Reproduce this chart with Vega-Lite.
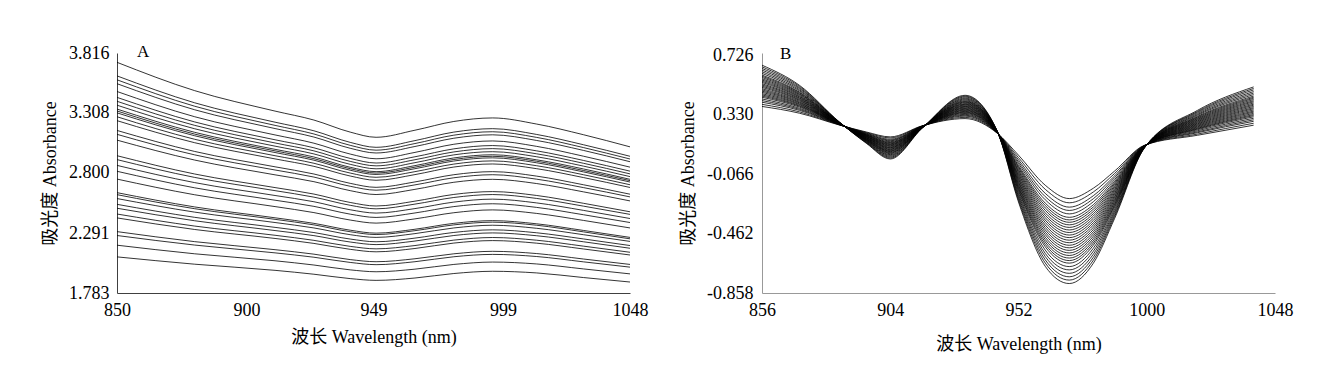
{
"$schema": "https://vega.github.io/schema/vega-lite/v6.json",
"padding": {"left": 41, "top": 43, "right": 5, "bottom": 5},
"bounds": "flush",
"spacing": 132,
"config": {
  "view": {"stroke": null},
  "font": "Liberation Serif, Noto Sans CJK SC",
  "axis": {"grid": false, "ticks": false, "labelFontSize": 18, "titleFontSize": 18, "titleFontWeight": "normal", "labelColor": "#000", "titleColor": "#000", "labelFlush": false, "labelOverlap": false, "labelPadding": 8, "titlePadding": 9}
},
"datasets": {
"a": [
{"c":1,"w":850,"v":3.737},{"c":1,"w":880,"v":3.497},{"c":1,"w":911,"v":3.324},{"c":1,"w":926,"v":3.248},{"c":1,"w":940,"v":3.146},{"c":1,"w":950,"v":3.102},{"c":1,"w":965,"v":3.162},{"c":1,"w":980,"v":3.236},{"c":1,"w":995,"v":3.266},{"c":1,"w":1012,"v":3.214},{"c":1,"w":1030,"v":3.124},{"c":1,"w":1048,"v":3.021},
{"c":2,"w":850,"v":3.622},{"c":2,"w":880,"v":3.394},{"c":2,"w":911,"v":3.230},{"c":2,"w":926,"v":3.157},{"c":2,"w":940,"v":3.059},{"c":2,"w":950,"v":3.017},{"c":2,"w":965,"v":3.074},{"c":2,"w":980,"v":3.146},{"c":2,"w":995,"v":3.175},{"c":2,"w":1012,"v":3.126},{"c":2,"w":1030,"v":3.039},{"c":2,"w":1048,"v":2.941},
{"c":3,"w":850,"v":3.589},{"c":3,"w":880,"v":3.365},{"c":3,"w":911,"v":3.203},{"c":3,"w":926,"v":3.130},{"c":3,"w":940,"v":3.034},{"c":3,"w":950,"v":2.993},{"c":3,"w":965,"v":3.049},{"c":3,"w":980,"v":3.120},{"c":3,"w":995,"v":3.149},{"c":3,"w":1012,"v":3.101},{"c":3,"w":1030,"v":3.015},{"c":3,"w":1048,"v":2.918},
{"c":4,"w":850,"v":3.556},{"c":4,"w":880,"v":3.335},{"c":4,"w":911,"v":3.176},{"c":4,"w":926,"v":3.104},{"c":4,"w":940,"v":3.009},{"c":4,"w":950,"v":2.969},{"c":4,"w":965,"v":3.024},{"c":4,"w":980,"v":3.094},{"c":4,"w":995,"v":3.123},{"c":4,"w":1012,"v":3.075},{"c":4,"w":1030,"v":2.991},{"c":4,"w":1048,"v":2.895},
{"c":5,"w":850,"v":3.490},{"c":5,"w":880,"v":3.276},{"c":5,"w":911,"v":3.122},{"c":5,"w":926,"v":3.052},{"c":5,"w":940,"v":2.960},{"c":5,"w":950,"v":2.920},{"c":5,"w":965,"v":2.974},{"c":5,"w":980,"v":3.043},{"c":5,"w":995,"v":3.071},{"c":5,"w":1012,"v":3.025},{"c":5,"w":1030,"v":2.942},{"c":5,"w":1048,"v":2.849},
{"c":6,"w":850,"v":3.440},{"c":6,"w":880,"v":3.232},{"c":6,"w":911,"v":3.081},{"c":6,"w":926,"v":3.013},{"c":6,"w":940,"v":2.923},{"c":6,"w":950,"v":2.884},{"c":6,"w":965,"v":2.937},{"c":6,"w":980,"v":3.004},{"c":6,"w":995,"v":3.032},{"c":6,"w":1012,"v":2.987},{"c":6,"w":1030,"v":2.906},{"c":6,"w":1048,"v":2.815},
{"c":7,"w":850,"v":3.407},{"c":7,"w":880,"v":3.203},{"c":7,"w":911,"v":3.054},{"c":7,"w":926,"v":2.987},{"c":7,"w":940,"v":2.898},{"c":7,"w":950,"v":2.860},{"c":7,"w":965,"v":2.912},{"c":7,"w":980,"v":2.978},{"c":7,"w":995,"v":3.006},{"c":7,"w":1012,"v":2.962},{"c":7,"w":1030,"v":2.882},{"c":7,"w":1048,"v":2.792},
{"c":8,"w":850,"v":3.374},{"c":8,"w":880,"v":3.174},{"c":8,"w":911,"v":3.027},{"c":8,"w":926,"v":2.961},{"c":8,"w":940,"v":2.873},{"c":8,"w":950,"v":2.835},{"c":8,"w":965,"v":2.887},{"c":8,"w":980,"v":2.953},{"c":8,"w":995,"v":2.980},{"c":8,"w":1012,"v":2.937},{"c":8,"w":1030,"v":2.858},{"c":8,"w":1048,"v":2.769},
{"c":9,"w":850,"v":3.341},{"c":9,"w":880,"v":3.144},{"c":9,"w":911,"v":3.000},{"c":9,"w":926,"v":2.935},{"c":9,"w":940,"v":2.848},{"c":9,"w":950,"v":2.811},{"c":9,"w":965,"v":2.862},{"c":9,"w":980,"v":2.927},{"c":9,"w":995,"v":2.954},{"c":9,"w":1012,"v":2.911},{"c":9,"w":1030,"v":2.834},{"c":9,"w":1048,"v":2.746},
{"c":10,"w":850,"v":3.325},{"c":10,"w":880,"v":3.129},{"c":10,"w":911,"v":2.987},{"c":10,"w":926,"v":2.921},{"c":10,"w":940,"v":2.836},{"c":10,"w":950,"v":2.799},{"c":10,"w":965,"v":2.849},{"c":10,"w":980,"v":2.914},{"c":10,"w":995,"v":2.941},{"c":10,"w":1012,"v":2.899},{"c":10,"w":1030,"v":2.821},{"c":10,"w":1048,"v":2.735},
{"c":11,"w":850,"v":3.309},{"c":11,"w":880,"v":3.115},{"c":11,"w":911,"v":2.973},{"c":11,"w":926,"v":2.908},{"c":11,"w":940,"v":2.823},{"c":11,"w":950,"v":2.787},{"c":11,"w":965,"v":2.836},{"c":11,"w":980,"v":2.901},{"c":11,"w":995,"v":2.928},{"c":11,"w":1012,"v":2.886},{"c":11,"w":1030,"v":2.809},{"c":11,"w":1048,"v":2.723},
{"c":12,"w":850,"v":3.276},{"c":12,"w":880,"v":3.085},{"c":12,"w":911,"v":2.946},{"c":12,"w":926,"v":2.882},{"c":12,"w":940,"v":2.799},{"c":12,"w":950,"v":2.763},{"c":12,"w":965,"v":2.811},{"c":12,"w":980,"v":2.875},{"c":12,"w":995,"v":2.902},{"c":12,"w":1012,"v":2.861},{"c":12,"w":1030,"v":2.785},{"c":12,"w":1048,"v":2.700},
{"c":13,"w":850,"v":3.243},{"c":13,"w":880,"v":3.056},{"c":13,"w":911,"v":2.919},{"c":13,"w":926,"v":2.856},{"c":13,"w":940,"v":2.774},{"c":13,"w":950,"v":2.738},{"c":13,"w":965,"v":2.786},{"c":13,"w":980,"v":2.850},{"c":13,"w":995,"v":2.876},{"c":13,"w":1012,"v":2.836},{"c":13,"w":1030,"v":2.761},{"c":13,"w":1048,"v":2.677},
{"c":14,"w":850,"v":3.160},{"c":14,"w":880,"v":2.982},{"c":14,"w":911,"v":2.852},{"c":14,"w":926,"v":2.791},{"c":14,"w":940,"v":2.712},{"c":14,"w":950,"v":2.678},{"c":14,"w":965,"v":2.724},{"c":14,"w":980,"v":2.785},{"c":14,"w":995,"v":2.811},{"c":14,"w":1012,"v":2.773},{"c":14,"w":1030,"v":2.700},{"c":14,"w":1048,"v":2.620},
{"c":15,"w":850,"v":3.127},{"c":15,"w":880,"v":2.953},{"c":15,"w":911,"v":2.825},{"c":15,"w":926,"v":2.765},{"c":15,"w":940,"v":2.687},{"c":15,"w":950,"v":2.654},{"c":15,"w":965,"v":2.699},{"c":15,"w":980,"v":2.759},{"c":15,"w":995,"v":2.785},{"c":15,"w":1012,"v":2.747},{"c":15,"w":1030,"v":2.676},{"c":15,"w":1048,"v":2.597},
{"c":16,"w":850,"v":3.078},{"c":16,"w":880,"v":2.909},{"c":16,"w":911,"v":2.784},{"c":16,"w":926,"v":2.726},{"c":16,"w":940,"v":2.650},{"c":16,"w":950,"v":2.617},{"c":16,"w":965,"v":2.661},{"c":16,"w":980,"v":2.721},{"c":16,"w":995,"v":2.746},{"c":16,"w":1012,"v":2.710},{"c":16,"w":1030,"v":2.640},{"c":16,"w":1048,"v":2.563},
{"c":17,"w":850,"v":2.946},{"c":17,"w":880,"v":2.791},{"c":17,"w":911,"v":2.676},{"c":17,"w":926,"v":2.621},{"c":17,"w":940,"v":2.550},{"c":17,"w":950,"v":2.520},{"c":17,"w":965,"v":2.561},{"c":17,"w":980,"v":2.618},{"c":17,"w":995,"v":2.642},{"c":17,"w":1012,"v":2.609},{"c":17,"w":1030,"v":2.543},{"c":17,"w":1048,"v":2.471},
{"c":18,"w":850,"v":2.913},{"c":18,"w":880,"v":2.762},{"c":18,"w":911,"v":2.650},{"c":18,"w":926,"v":2.595},{"c":18,"w":940,"v":2.526},{"c":18,"w":950,"v":2.496},{"c":18,"w":965,"v":2.536},{"c":18,"w":980,"v":2.592},{"c":18,"w":995,"v":2.617},{"c":18,"w":1012,"v":2.584},{"c":18,"w":1030,"v":2.519},{"c":18,"w":1048,"v":2.449},
{"c":19,"w":850,"v":2.864},{"c":19,"w":880,"v":2.718},{"c":19,"w":911,"v":2.609},{"c":19,"w":926,"v":2.556},{"c":19,"w":940,"v":2.488},{"c":19,"w":950,"v":2.460},{"c":19,"w":965,"v":2.498},{"c":19,"w":980,"v":2.553},{"c":19,"w":995,"v":2.578},{"c":19,"w":1012,"v":2.546},{"c":19,"w":1030,"v":2.483},{"c":19,"w":1048,"v":2.414},
{"c":20,"w":850,"v":2.814},{"c":20,"w":880,"v":2.674},{"c":20,"w":911,"v":2.569},{"c":20,"w":926,"v":2.517},{"c":20,"w":940,"v":2.451},{"c":20,"w":950,"v":2.423},{"c":20,"w":965,"v":2.461},{"c":20,"w":980,"v":2.515},{"c":20,"w":995,"v":2.539},{"c":20,"w":1012,"v":2.508},{"c":20,"w":1030,"v":2.446},{"c":20,"w":1048,"v":2.380},
{"c":21,"w":850,"v":2.748},{"c":21,"w":880,"v":2.615},{"c":21,"w":911,"v":2.515},{"c":21,"w":926,"v":2.464},{"c":21,"w":940,"v":2.401},{"c":21,"w":950,"v":2.375},{"c":21,"w":965,"v":2.411},{"c":21,"w":980,"v":2.463},{"c":21,"w":995,"v":2.487},{"c":21,"w":1012,"v":2.457},{"c":21,"w":1030,"v":2.398},{"c":21,"w":1048,"v":2.334},
{"c":22,"w":850,"v":2.633},{"c":22,"w":880,"v":2.512},{"c":22,"w":911,"v":2.420},{"c":22,"w":926,"v":2.373},{"c":22,"w":940,"v":2.315},{"c":22,"w":950,"v":2.290},{"c":22,"w":965,"v":2.323},{"c":22,"w":980,"v":2.373},{"c":22,"w":995,"v":2.396},{"c":22,"w":1012,"v":2.369},{"c":22,"w":1030,"v":2.313},{"c":22,"w":1048,"v":2.254},
{"c":23,"w":850,"v":2.616},{"c":23,"w":880,"v":2.497},{"c":23,"w":911,"v":2.407},{"c":23,"w":926,"v":2.360},{"c":23,"w":940,"v":2.302},{"c":23,"w":950,"v":2.278},{"c":23,"w":965,"v":2.311},{"c":23,"w":980,"v":2.360},{"c":23,"w":995,"v":2.383},{"c":23,"w":1012,"v":2.357},{"c":23,"w":1030,"v":2.301},{"c":23,"w":1048,"v":2.242},
{"c":24,"w":850,"v":2.583},{"c":24,"w":880,"v":2.468},{"c":24,"w":911,"v":2.380},{"c":24,"w":926,"v":2.334},{"c":24,"w":940,"v":2.277},{"c":24,"w":950,"v":2.254},{"c":24,"w":965,"v":2.286},{"c":24,"w":980,"v":2.334},{"c":24,"w":995,"v":2.357},{"c":24,"w":1012,"v":2.331},{"c":24,"w":1030,"v":2.277},{"c":24,"w":1048,"v":2.220},
{"c":25,"w":850,"v":2.534},{"c":25,"w":880,"v":2.424},{"c":25,"w":911,"v":2.339},{"c":25,"w":926,"v":2.295},{"c":25,"w":940,"v":2.240},{"c":25,"w":950,"v":2.217},{"c":25,"w":965,"v":2.248},{"c":25,"w":980,"v":2.296},{"c":25,"w":995,"v":2.318},{"c":25,"w":1012,"v":2.293},{"c":25,"w":1030,"v":2.241},{"c":25,"w":1048,"v":2.185},
{"c":26,"w":850,"v":2.501},{"c":26,"w":880,"v":2.395},{"c":26,"w":911,"v":2.312},{"c":26,"w":926,"v":2.269},{"c":26,"w":940,"v":2.215},{"c":26,"w":950,"v":2.193},{"c":26,"w":965,"v":2.223},{"c":26,"w":980,"v":2.270},{"c":26,"w":995,"v":2.292},{"c":26,"w":1012,"v":2.268},{"c":26,"w":1030,"v":2.217},{"c":26,"w":1048,"v":2.162},
{"c":27,"w":850,"v":2.452},{"c":27,"w":880,"v":2.350},{"c":27,"w":911,"v":2.272},{"c":27,"w":926,"v":2.229},{"c":27,"w":940,"v":2.178},{"c":27,"w":950,"v":2.157},{"c":27,"w":965,"v":2.185},{"c":27,"w":980,"v":2.231},{"c":27,"w":995,"v":2.253},{"c":27,"w":1012,"v":2.230},{"c":27,"w":1030,"v":2.180},{"c":27,"w":1048,"v":2.128},
{"c":28,"w":850,"v":2.419},{"c":28,"w":880,"v":2.321},{"c":28,"w":911,"v":2.245},{"c":28,"w":926,"v":2.203},{"c":28,"w":940,"v":2.153},{"c":28,"w":950,"v":2.132},{"c":28,"w":965,"v":2.160},{"c":28,"w":980,"v":2.206},{"c":28,"w":995,"v":2.227},{"c":28,"w":1012,"v":2.205},{"c":28,"w":1030,"v":2.156},{"c":28,"w":1048,"v":2.105},
{"c":29,"w":850,"v":2.303},{"c":29,"w":880,"v":2.218},{"c":29,"w":911,"v":2.150},{"c":29,"w":926,"v":2.112},{"c":29,"w":940,"v":2.066},{"c":29,"w":950,"v":2.048},{"c":29,"w":965,"v":2.073},{"c":29,"w":980,"v":2.115},{"c":29,"w":995,"v":2.136},{"c":29,"w":1012,"v":2.117},{"c":29,"w":1030,"v":2.071},{"c":29,"w":1048,"v":2.025},
{"c":30,"w":850,"v":2.270},{"c":30,"w":880,"v":2.189},{"c":30,"w":911,"v":2.123},{"c":30,"w":926,"v":2.086},{"c":30,"w":940,"v":2.042},{"c":30,"w":950,"v":2.023},{"c":30,"w":965,"v":2.048},{"c":30,"w":980,"v":2.090},{"c":30,"w":995,"v":2.110},{"c":30,"w":1012,"v":2.092},{"c":30,"w":1030,"v":2.047},{"c":30,"w":1048,"v":2.002},
{"c":31,"w":850,"v":2.188},{"c":31,"w":880,"v":2.115},{"c":31,"w":911,"v":2.056},{"c":31,"w":926,"v":2.020},{"c":31,"w":940,"v":1.979},{"c":31,"w":950,"v":1.963},{"c":31,"w":965,"v":1.985},{"c":31,"w":980,"v":2.025},{"c":31,"w":995,"v":2.045},{"c":31,"w":1012,"v":2.029},{"c":31,"w":1030,"v":1.987},{"c":31,"w":1048,"v":1.945},
{"c":32,"w":850,"v":2.089},{"c":32,"w":880,"v":2.027},{"c":32,"w":911,"v":1.975},{"c":32,"w":926,"v":1.942},{"c":32,"w":940,"v":1.905},{"c":32,"w":950,"v":1.890},{"c":32,"w":965,"v":1.910},{"c":32,"w":980,"v":1.948},{"c":32,"w":995,"v":1.967},{"c":32,"w":1012,"v":1.953},{"c":32,"w":1030,"v":1.914},{"c":32,"w":1048,"v":1.876}
],
"b": [
{"c":1,"w":856,"v":0.385},{"c":1,"w":870,"v":0.340},{"c":1,"w":885,"v":0.261},{"c":1,"w":895,"v":0.215},{"c":1,"w":904,"v":0.182},{"c":1,"w":916,"v":0.256},{"c":1,"w":932,"v":0.304},{"c":1,"w":944,"v":0.207},{"c":1,"w":952,"v":0.060},{"c":1,"w":962,"v":-0.140},{"c":1,"w":971,"v":-0.229},{"c":1,"w":980,"v":-0.160},{"c":1,"w":988,"v":-0.045},{"c":1,"w":999,"v":0.125},{"c":1,"w":1019,"v":0.193},{"c":1,"w":1040,"v":0.260},
{"c":2,"w":856,"v":0.399},{"c":2,"w":870,"v":0.349},{"c":2,"w":885,"v":0.262},{"c":2,"w":895,"v":0.211},{"c":2,"w":904,"v":0.175},{"c":2,"w":916,"v":0.255},{"c":2,"w":932,"v":0.312},{"c":2,"w":944,"v":0.208},{"c":2,"w":952,"v":0.044},{"c":2,"w":962,"v":-0.167},{"c":2,"w":971,"v":-0.257},{"c":2,"w":980,"v":-0.185},{"c":2,"w":988,"v":-0.061},{"c":2,"w":999,"v":0.124},{"c":2,"w":1019,"v":0.201},{"c":2,"w":1040,"v":0.273},
{"c":3,"w":856,"v":0.413},{"c":3,"w":870,"v":0.359},{"c":3,"w":885,"v":0.263},{"c":3,"w":895,"v":0.207},{"c":3,"w":904,"v":0.167},{"c":3,"w":916,"v":0.254},{"c":3,"w":932,"v":0.320},{"c":3,"w":944,"v":0.209},{"c":3,"w":952,"v":0.029},{"c":3,"w":962,"v":-0.194},{"c":3,"w":971,"v":-0.286},{"c":3,"w":980,"v":-0.210},{"c":3,"w":988,"v":-0.077},{"c":3,"w":999,"v":0.123},{"c":3,"w":1019,"v":0.210},{"c":3,"w":1040,"v":0.286},
{"c":4,"w":856,"v":0.424},{"c":4,"w":870,"v":0.366},{"c":4,"w":885,"v":0.264},{"c":4,"w":895,"v":0.204},{"c":4,"w":904,"v":0.161},{"c":4,"w":916,"v":0.254},{"c":4,"w":932,"v":0.326},{"c":4,"w":944,"v":0.209},{"c":4,"w":952,"v":0.016},{"c":4,"w":962,"v":-0.216},{"c":4,"w":971,"v":-0.308},{"c":4,"w":980,"v":-0.230},{"c":4,"w":988,"v":-0.089},{"c":4,"w":999,"v":0.122},{"c":4,"w":1019,"v":0.216},{"c":4,"w":1040,"v":0.296},
{"c":5,"w":856,"v":0.435},{"c":5,"w":870,"v":0.373},{"c":5,"w":885,"v":0.265},{"c":5,"w":895,"v":0.201},{"c":5,"w":904,"v":0.156},{"c":5,"w":916,"v":0.253},{"c":5,"w":932,"v":0.332},{"c":5,"w":944,"v":0.210},{"c":5,"w":952,"v":0.004},{"c":5,"w":962,"v":-0.237},{"c":5,"w":971,"v":-0.331},{"c":5,"w":980,"v":-0.250},{"c":5,"w":988,"v":-0.102},{"c":5,"w":999,"v":0.121},{"c":5,"w":1019,"v":0.223},{"c":5,"w":1040,"v":0.306},
{"c":6,"w":856,"v":0.446},{"c":6,"w":870,"v":0.381},{"c":6,"w":885,"v":0.265},{"c":6,"w":895,"v":0.198},{"c":6,"w":904,"v":0.150},{"c":6,"w":916,"v":0.253},{"c":6,"w":932,"v":0.338},{"c":6,"w":944,"v":0.210},{"c":6,"w":952,"v":-0.009},{"c":6,"w":962,"v":-0.259},{"c":6,"w":971,"v":-0.354},{"c":6,"w":980,"v":-0.270},{"c":6,"w":988,"v":-0.114},{"c":6,"w":999,"v":0.121},{"c":6,"w":1019,"v":0.230},{"c":6,"w":1040,"v":0.316},
{"c":7,"w":856,"v":0.454},{"c":7,"w":870,"v":0.387},{"c":7,"w":885,"v":0.266},{"c":7,"w":895,"v":0.196},{"c":7,"w":904,"v":0.145},{"c":7,"w":916,"v":0.252},{"c":7,"w":932,"v":0.343},{"c":7,"w":944,"v":0.211},{"c":7,"w":952,"v":-0.018},{"c":7,"w":962,"v":-0.275},{"c":7,"w":971,"v":-0.371},{"c":7,"w":980,"v":-0.285},{"c":7,"w":988,"v":-0.124},{"c":7,"w":999,"v":0.120},{"c":7,"w":1019,"v":0.235},{"c":7,"w":1040,"v":0.324},
{"c":8,"w":856,"v":0.462},{"c":8,"w":870,"v":0.392},{"c":8,"w":885,"v":0.267},{"c":8,"w":895,"v":0.194},{"c":8,"w":904,"v":0.141},{"c":8,"w":916,"v":0.252},{"c":8,"w":932,"v":0.347},{"c":8,"w":944,"v":0.211},{"c":8,"w":952,"v":-0.027},{"c":8,"w":962,"v":-0.291},{"c":8,"w":971,"v":-0.387},{"c":8,"w":980,"v":-0.300},{"c":8,"w":988,"v":-0.133},{"c":8,"w":999,"v":0.119},{"c":8,"w":1019,"v":0.239},{"c":8,"w":1040,"v":0.331},
{"c":9,"w":856,"v":0.470},{"c":9,"w":870,"v":0.398},{"c":9,"w":885,"v":0.267},{"c":9,"w":895,"v":0.192},{"c":9,"w":904,"v":0.136},{"c":9,"w":916,"v":0.251},{"c":9,"w":932,"v":0.352},{"c":9,"w":944,"v":0.212},{"c":9,"w":952,"v":-0.037},{"c":9,"w":962,"v":-0.307},{"c":9,"w":971,"v":-0.404},{"c":9,"w":980,"v":-0.315},{"c":9,"w":988,"v":-0.143},{"c":9,"w":999,"v":0.119},{"c":9,"w":1019,"v":0.244},{"c":9,"w":1040,"v":0.339},
{"c":10,"w":856,"v":0.479},{"c":10,"w":870,"v":0.403},{"c":10,"w":885,"v":0.268},{"c":10,"w":895,"v":0.189},{"c":10,"w":904,"v":0.132},{"c":10,"w":916,"v":0.251},{"c":10,"w":932,"v":0.357},{"c":10,"w":944,"v":0.212},{"c":10,"w":952,"v":-0.046},{"c":10,"w":962,"v":-0.324},{"c":10,"w":971,"v":-0.421},{"c":10,"w":980,"v":-0.330},{"c":10,"w":988,"v":-0.152},{"c":10,"w":999,"v":0.118},{"c":10,"w":1019,"v":0.249},{"c":10,"w":1040,"v":0.347},
{"c":11,"w":856,"v":0.487},{"c":11,"w":870,"v":0.409},{"c":11,"w":885,"v":0.268},{"c":11,"w":895,"v":0.187},{"c":11,"w":904,"v":0.128},{"c":11,"w":916,"v":0.250},{"c":11,"w":932,"v":0.361},{"c":11,"w":944,"v":0.213},{"c":11,"w":952,"v":-0.055},{"c":11,"w":962,"v":-0.340},{"c":11,"w":971,"v":-0.438},{"c":11,"w":980,"v":-0.345},{"c":11,"w":988,"v":-0.162},{"c":11,"w":999,"v":0.118},{"c":11,"w":1019,"v":0.254},{"c":11,"w":1040,"v":0.354},
{"c":12,"w":856,"v":0.495},{"c":12,"w":870,"v":0.414},{"c":12,"w":885,"v":0.269},{"c":12,"w":895,"v":0.185},{"c":12,"w":904,"v":0.123},{"c":12,"w":916,"v":0.250},{"c":12,"w":932,"v":0.366},{"c":12,"w":944,"v":0.213},{"c":12,"w":952,"v":-0.065},{"c":12,"w":962,"v":-0.356},{"c":12,"w":971,"v":-0.455},{"c":12,"w":980,"v":-0.360},{"c":12,"w":988,"v":-0.171},{"c":12,"w":999,"v":0.117},{"c":12,"w":1019,"v":0.259},{"c":12,"w":1040,"v":0.362},
{"c":13,"w":856,"v":0.503},{"c":13,"w":870,"v":0.420},{"c":13,"w":885,"v":0.270},{"c":13,"w":895,"v":0.183},{"c":13,"w":904,"v":0.119},{"c":13,"w":916,"v":0.250},{"c":13,"w":932,"v":0.371},{"c":13,"w":944,"v":0.213},{"c":13,"w":952,"v":-0.074},{"c":13,"w":962,"v":-0.372},{"c":13,"w":971,"v":-0.472},{"c":13,"w":980,"v":-0.375},{"c":13,"w":988,"v":-0.180},{"c":13,"w":999,"v":0.116},{"c":13,"w":1019,"v":0.264},{"c":13,"w":1040,"v":0.370},
{"c":14,"w":856,"v":0.512},{"c":14,"w":870,"v":0.426},{"c":14,"w":885,"v":0.270},{"c":14,"w":895,"v":0.180},{"c":14,"w":904,"v":0.114},{"c":14,"w":916,"v":0.249},{"c":14,"w":932,"v":0.375},{"c":14,"w":944,"v":0.214},{"c":14,"w":952,"v":-0.084},{"c":14,"w":962,"v":-0.388},{"c":14,"w":971,"v":-0.489},{"c":14,"w":980,"v":-0.390},{"c":14,"w":988,"v":-0.190},{"c":14,"w":999,"v":0.116},{"c":14,"w":1019,"v":0.269},{"c":14,"w":1040,"v":0.377},
{"c":15,"w":856,"v":0.520},{"c":15,"w":870,"v":0.431},{"c":15,"w":885,"v":0.271},{"c":15,"w":895,"v":0.178},{"c":15,"w":904,"v":0.110},{"c":15,"w":916,"v":0.249},{"c":15,"w":932,"v":0.380},{"c":15,"w":944,"v":0.214},{"c":15,"w":952,"v":-0.093},{"c":15,"w":962,"v":-0.405},{"c":15,"w":971,"v":-0.506},{"c":15,"w":980,"v":-0.405},{"c":15,"w":988,"v":-0.199},{"c":15,"w":999,"v":0.115},{"c":15,"w":1019,"v":0.274},{"c":15,"w":1040,"v":0.385},
{"c":16,"w":856,"v":0.528},{"c":16,"w":870,"v":0.437},{"c":16,"w":885,"v":0.271},{"c":16,"w":895,"v":0.176},{"c":16,"w":904,"v":0.106},{"c":16,"w":916,"v":0.248},{"c":16,"w":932,"v":0.385},{"c":16,"w":944,"v":0.215},{"c":16,"w":952,"v":-0.102},{"c":16,"w":962,"v":-0.421},{"c":16,"w":971,"v":-0.523},{"c":16,"w":980,"v":-0.420},{"c":16,"w":988,"v":-0.209},{"c":16,"w":999,"v":0.115},{"c":16,"w":1019,"v":0.279},{"c":16,"w":1040,"v":0.393},
{"c":17,"w":856,"v":0.536},{"c":17,"w":870,"v":0.442},{"c":17,"w":885,"v":0.272},{"c":17,"w":895,"v":0.174},{"c":17,"w":904,"v":0.101},{"c":17,"w":916,"v":0.248},{"c":17,"w":932,"v":0.389},{"c":17,"w":944,"v":0.215},{"c":17,"w":952,"v":-0.112},{"c":17,"w":962,"v":-0.437},{"c":17,"w":971,"v":-0.540},{"c":17,"w":980,"v":-0.435},{"c":17,"w":988,"v":-0.218},{"c":17,"w":999,"v":0.114},{"c":17,"w":1019,"v":0.284},{"c":17,"w":1040,"v":0.400},
{"c":18,"w":856,"v":0.545},{"c":18,"w":870,"v":0.448},{"c":18,"w":885,"v":0.273},{"c":18,"w":895,"v":0.171},{"c":18,"w":904,"v":0.097},{"c":18,"w":916,"v":0.247},{"c":18,"w":932,"v":0.394},{"c":18,"w":944,"v":0.216},{"c":18,"w":952,"v":-0.121},{"c":18,"w":962,"v":-0.453},{"c":18,"w":971,"v":-0.557},{"c":18,"w":980,"v":-0.450},{"c":18,"w":988,"v":-0.228},{"c":18,"w":999,"v":0.113},{"c":18,"w":1019,"v":0.289},{"c":18,"w":1040,"v":0.408},
{"c":19,"w":856,"v":0.553},{"c":19,"w":870,"v":0.453},{"c":19,"w":885,"v":0.273},{"c":19,"w":895,"v":0.169},{"c":19,"w":904,"v":0.092},{"c":19,"w":916,"v":0.247},{"c":19,"w":932,"v":0.399},{"c":19,"w":944,"v":0.216},{"c":19,"w":952,"v":-0.130},{"c":19,"w":962,"v":-0.469},{"c":19,"w":971,"v":-0.574},{"c":19,"w":980,"v":-0.465},{"c":19,"w":988,"v":-0.237},{"c":19,"w":999,"v":0.113},{"c":19,"w":1019,"v":0.294},{"c":19,"w":1040,"v":0.416},
{"c":20,"w":856,"v":0.561},{"c":20,"w":870,"v":0.459},{"c":20,"w":885,"v":0.274},{"c":20,"w":895,"v":0.167},{"c":20,"w":904,"v":0.088},{"c":20,"w":916,"v":0.246},{"c":20,"w":932,"v":0.403},{"c":20,"w":944,"v":0.217},{"c":20,"w":952,"v":-0.140},{"c":20,"w":962,"v":-0.486},{"c":20,"w":971,"v":-0.591},{"c":20,"w":980,"v":-0.480},{"c":20,"w":988,"v":-0.247},{"c":20,"w":999,"v":0.112},{"c":20,"w":1019,"v":0.299},{"c":20,"w":1040,"v":0.423},
{"c":21,"w":856,"v":0.569},{"c":21,"w":870,"v":0.465},{"c":21,"w":885,"v":0.274},{"c":21,"w":895,"v":0.165},{"c":21,"w":904,"v":0.084},{"c":21,"w":916,"v":0.246},{"c":21,"w":932,"v":0.408},{"c":21,"w":944,"v":0.217},{"c":21,"w":952,"v":-0.149},{"c":21,"w":962,"v":-0.502},{"c":21,"w":971,"v":-0.608},{"c":21,"w":980,"v":-0.495},{"c":21,"w":988,"v":-0.256},{"c":21,"w":999,"v":0.112},{"c":21,"w":1019,"v":0.304},{"c":21,"w":1040,"v":0.431},
{"c":22,"w":856,"v":0.578},{"c":22,"w":870,"v":0.470},{"c":22,"w":885,"v":0.275},{"c":22,"w":895,"v":0.162},{"c":22,"w":904,"v":0.079},{"c":22,"w":916,"v":0.245},{"c":22,"w":932,"v":0.413},{"c":22,"w":944,"v":0.218},{"c":22,"w":952,"v":-0.158},{"c":22,"w":962,"v":-0.518},{"c":22,"w":971,"v":-0.625},{"c":22,"w":980,"v":-0.510},{"c":22,"w":988,"v":-0.266},{"c":22,"w":999,"v":0.111},{"c":22,"w":1019,"v":0.309},{"c":22,"w":1040,"v":0.439},
{"c":23,"w":856,"v":0.586},{"c":23,"w":870,"v":0.476},{"c":23,"w":885,"v":0.276},{"c":23,"w":895,"v":0.160},{"c":23,"w":904,"v":0.075},{"c":23,"w":916,"v":0.245},{"c":23,"w":932,"v":0.417},{"c":23,"w":944,"v":0.218},{"c":23,"w":952,"v":-0.168},{"c":23,"w":962,"v":-0.534},{"c":23,"w":971,"v":-0.642},{"c":23,"w":980,"v":-0.525},{"c":23,"w":988,"v":-0.275},{"c":23,"w":999,"v":0.110},{"c":23,"w":1019,"v":0.314},{"c":23,"w":1040,"v":0.446},
{"c":24,"w":856,"v":0.594},{"c":24,"w":870,"v":0.481},{"c":24,"w":885,"v":0.276},{"c":24,"w":895,"v":0.158},{"c":24,"w":904,"v":0.070},{"c":24,"w":916,"v":0.245},{"c":24,"w":932,"v":0.422},{"c":24,"w":944,"v":0.218},{"c":24,"w":952,"v":-0.177},{"c":24,"w":962,"v":-0.550},{"c":24,"w":971,"v":-0.659},{"c":24,"w":980,"v":-0.540},{"c":24,"w":988,"v":-0.284},{"c":24,"w":999,"v":0.110},{"c":24,"w":1019,"v":0.319},{"c":24,"w":1040,"v":0.454},
{"c":25,"w":856,"v":0.605},{"c":25,"w":870,"v":0.489},{"c":25,"w":885,"v":0.277},{"c":25,"w":895,"v":0.155},{"c":25,"w":904,"v":0.064},{"c":25,"w":916,"v":0.244},{"c":25,"w":932,"v":0.428},{"c":25,"w":944,"v":0.219},{"c":25,"w":952,"v":-0.190},{"c":25,"w":962,"v":-0.572},{"c":25,"w":971,"v":-0.682},{"c":25,"w":980,"v":-0.560},{"c":25,"w":988,"v":-0.297},{"c":25,"w":999,"v":0.109},{"c":25,"w":1019,"v":0.326},{"c":25,"w":1040,"v":0.464},
{"c":26,"w":856,"v":0.616},{"c":26,"w":870,"v":0.496},{"c":26,"w":885,"v":0.278},{"c":26,"w":895,"v":0.152},{"c":26,"w":904,"v":0.059},{"c":26,"w":916,"v":0.243},{"c":26,"w":932,"v":0.434},{"c":26,"w":944,"v":0.220},{"c":26,"w":952,"v":-0.202},{"c":26,"w":962,"v":-0.594},{"c":26,"w":971,"v":-0.704},{"c":26,"w":980,"v":-0.580},{"c":26,"w":988,"v":-0.310},{"c":26,"w":999,"v":0.108},{"c":26,"w":1019,"v":0.332},{"c":26,"w":1040,"v":0.474},
{"c":27,"w":856,"v":0.627},{"c":27,"w":870,"v":0.504},{"c":27,"w":885,"v":0.279},{"c":27,"w":895,"v":0.149},{"c":27,"w":904,"v":0.053},{"c":27,"w":916,"v":0.243},{"c":27,"w":932,"v":0.440},{"c":27,"w":944,"v":0.220},{"c":27,"w":952,"v":-0.215},{"c":27,"w":962,"v":-0.615},{"c":27,"w":971,"v":-0.727},{"c":27,"w":980,"v":-0.600},{"c":27,"w":988,"v":-0.322},{"c":27,"w":999,"v":0.107},{"c":27,"w":1019,"v":0.339},{"c":27,"w":1040,"v":0.484},
{"c":28,"w":856,"v":0.638},{"c":28,"w":870,"v":0.511},{"c":28,"w":885,"v":0.279},{"c":28,"w":895,"v":0.146},{"c":28,"w":904,"v":0.047},{"c":28,"w":916,"v":0.242},{"c":28,"w":932,"v":0.447},{"c":28,"w":944,"v":0.221},{"c":28,"w":952,"v":-0.227},{"c":28,"w":962,"v":-0.637},{"c":28,"w":971,"v":-0.750},{"c":28,"w":980,"v":-0.620},{"c":28,"w":988,"v":-0.335},{"c":28,"w":999,"v":0.107},{"c":28,"w":1019,"v":0.346},{"c":28,"w":1040,"v":0.495},
{"c":29,"w":856,"v":0.649},{"c":29,"w":870,"v":0.519},{"c":29,"w":885,"v":0.280},{"c":29,"w":895,"v":0.143},{"c":29,"w":904,"v":0.041},{"c":29,"w":916,"v":0.242},{"c":29,"w":932,"v":0.453},{"c":29,"w":944,"v":0.221},{"c":29,"w":952,"v":-0.240},{"c":29,"w":962,"v":-0.658},{"c":29,"w":971,"v":-0.772},{"c":29,"w":980,"v":-0.640},{"c":29,"w":988,"v":-0.347},{"c":29,"w":999,"v":0.106},{"c":29,"w":1019,"v":0.352},{"c":29,"w":1040,"v":0.505},
{"c":30,"w":856,"v":0.660},{"c":30,"w":870,"v":0.526},{"c":30,"w":885,"v":0.281},{"c":30,"w":895,"v":0.140},{"c":30,"w":904,"v":0.035},{"c":30,"w":916,"v":0.241},{"c":30,"w":932,"v":0.459},{"c":30,"w":944,"v":0.222},{"c":30,"w":952,"v":-0.252},{"c":30,"w":962,"v":-0.680},{"c":30,"w":971,"v":-0.795},{"c":30,"w":980,"v":-0.660},{"c":30,"w":988,"v":-0.360},{"c":30,"w":999,"v":0.105},{"c":30,"w":1019,"v":0.359},{"c":30,"w":1040,"v":0.515}
]
},
"hconcat": [
{
  "data": {"name": "a"},
  "width": 513,
  "height": 240,
  "title": {"text": "A", "anchor": "start", "frame": "group", "dx": 20, "offset": -30, "baseline": "alphabetic", "fontSize": 17, "fontWeight": "normal", "color": "#000", "font": "Liberation Serif"},
  "mark": {"type": "line", "interpolate": "monotone", "color": "#000", "strokeWidth": 0.8},
  "encoding": {
    "x": {"field": "w", "type": "quantitative", "scale": {"domain": [850, 1048], "nice": false, "zero": false},
          "axis": {"values": [850, 900, 949, 999, 1048], "format": "d", "title": "波长 Wavelength (nm)", "domainColor": "#404040"}},
    "y": {"field": "v", "type": "quantitative", "scale": {"domain": [1.783, 3.816], "nice": false, "zero": false},
          "axis": {"values": [1.783, 2.291, 2.8, 3.308, 3.816], "format": ".3f", "title": "吸光度 Absorbance", "domainColor": "#404040"}},
    "detail": {"field": "c", "type": "nominal"}
  }
},
{
  "data": {"name": "b"},
  "width": 513,
  "height": 240,
  "title": {"text": "B", "anchor": "start", "frame": "group", "dx": 18, "offset": -30, "baseline": "alphabetic", "fontSize": 17, "fontWeight": "normal", "color": "#000", "font": "Liberation Serif"},
  "mark": {"type": "line", "interpolate": "monotone", "color": "#000", "strokeWidth": 0.8},
  "encoding": {
    "x": {"field": "w", "type": "quantitative", "scale": {"domain": [856, 1048], "nice": false, "zero": false},
          "axis": {"values": [856, 904, 952, 1000, 1048], "format": "d", "title": "波长 Wavelength (nm)", "domainColor": "#999999", "titlePadding": 16}},
    "y": {"field": "v", "type": "quantitative", "scale": {"domain": [-0.858, 0.741], "nice": false, "zero": false},
          "axis": {"values": [-0.858, -0.462, -0.066, 0.33, 0.726], "labelExpr": "datum.value < 0 ? '-' + format(-datum.value, '.3f') : format(datum.value, '.3f')", "title": "吸光度 Absorbance", "domainColor": "#999999", "labelPadding": 9}},
    "detail": {"field": "c", "type": "nominal"}
  }
}
]
}
